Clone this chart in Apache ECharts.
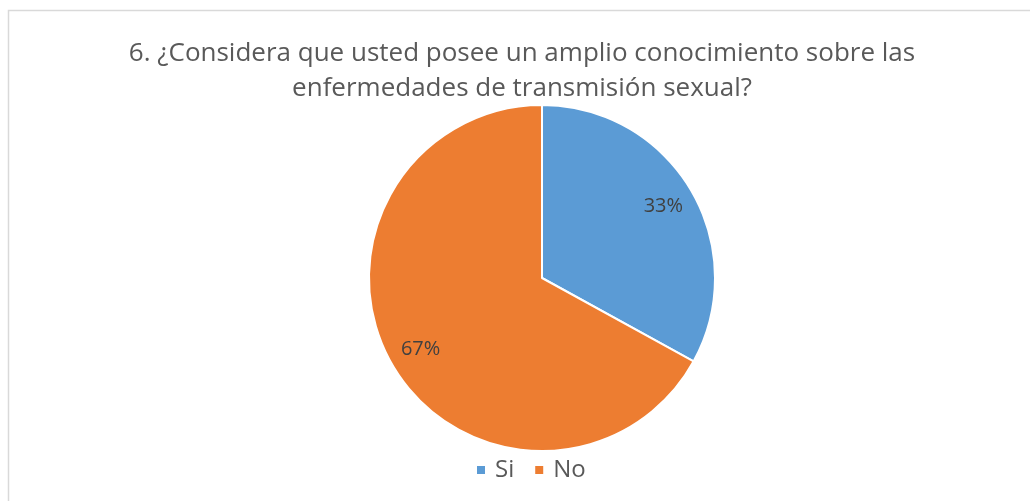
<!DOCTYPE html>
<html>
<head>
<meta charset="utf-8">
<script src="https://cdn.jsdelivr.net/npm/echarts@6/dist/echarts.min.js"></script>
<style>
  html, body { margin: 0; padding: 0; background: #fff; }
  #chart { width: 1030px; height: 501px; }
</style>
</head>
<body>
<div id="chart"></div>
<script>
  // Data
  const categories = ['Si', 'No'];
  const values = [33, 67];
  const colors = ['#5B9BD5', '#ED7D31'];
  const titleLines = [
    '6. ¿Considera que usted posee un amplio conocimiento sobre las',
    'enfermedades de transmisión sexual?'
  ];

  const chart = echarts.init(document.getElementById('chart'));

  const pieData = categories.map((name, i) => ({
    name: name,
    value: values[i],
    itemStyle: { color: colors[i] }
  }));

  const option = {
    animation: false,
    graphic: [
      {
        type: 'rect',
        shape: { x: 8.5, y: 10.5, width: 1040, height: 520 },
        style: { fill: 'none', stroke: '#d9d9d9', lineWidth: 1.5 },
        silent: true
      }
    ],
    title: {
      text: titleLines.join('\n'),
      left: 517,
      textAlign: 'center',
      top: 31,
      textStyle: {
        fontFamily: 'Open Sans',
        fontSize: 26,
        fontWeight: 'normal',
        color: '#595959',
        lineHeight: 35
      }
    },
    legend: {
      top: 453,
      left: 470,
      padding: 5,
      itemWidth: 10,
      itemHeight: 10,
      itemGap: 19,
      icon: 'rect',
      textStyle: {
        fontFamily: 'Open Sans',
        fontSize: 24,
        color: '#595959',
        padding: [0, 0, 0, 4]
      },
      data: categories
    },
    series: [
      {
        type: 'pie',
        center: [542, 278],
        radius: [0, 173],
        startAngle: 90,
        clockwise: true,
        itemStyle: { borderColor: '#fff', borderWidth: 2 },
        label: { show: false },
        labelLine: { show: false },
        emphasis: { disabled: true },
        data: pieData
      },
      {
        // label ring: puts percent labels at ~80% of the radius
        type: 'pie',
        center: [542, 278],
        radius: [103, 173],
        startAngle: 90,
        clockwise: true,
        silent: true,
        itemStyle: { color: 'transparent', borderWidth: 0 },
        label: {
          show: true,
          position: 'inside',
          formatter: '{d}%',
          fontFamily: 'Open Sans',
          fontSize: 20,
          color: '#404040'
        },
        labelLine: { show: false },
        emphasis: { disabled: true },
        data: categories.map((name, i) => ({ name: name, value: values[i] }))
      }
    ]
  };

  chart.setOption(option);
</script>
</body>
</html>
